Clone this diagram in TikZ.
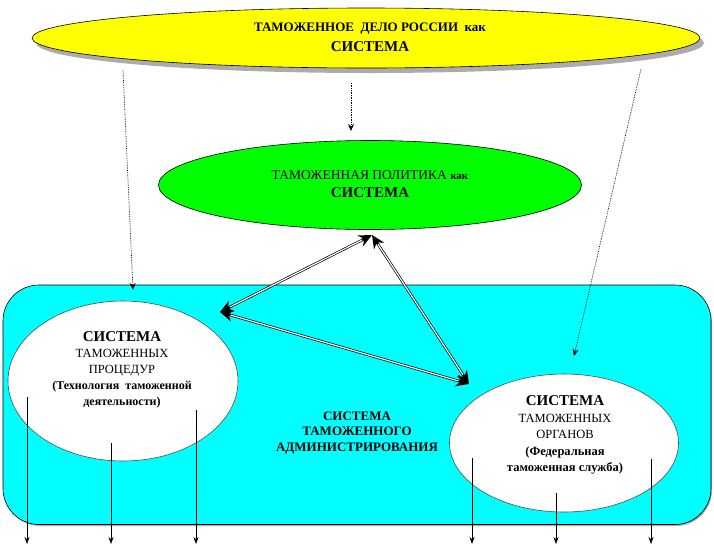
\documentclass[tikz,border=0pt]{standalone}
\usepackage{fontspec}
\setmainfont{Liberation Serif}
\usetikzlibrary{shapes.geometric,arrows.meta}

\definecolor{aqua}{RGB}{0,255,255}
\definecolor{lime}{RGB}{0,255,0}
\definecolor{lemon}{RGB}{255,255,0}

\tikzset{
  oval/.style={ellipse, draw, line width=0.6pt, inner sep=0pt},
  dotarrow/.style={densely dotted, line width=0.7pt, -{Stealth[length=7pt,width=6pt]}},
  twoway/.style={line width=2.6pt,
    {Stealth[length=13pt,width=12pt]}-{Stealth[length=13pt,width=12pt]},
    postaction={draw, -, white, line width=1.2pt, shorten >=11pt, shorten <=11pt}},
  outarrow/.style={line width=0.6pt, -{Stealth[length=7pt,width=5pt]}},
}

\begin{document}
\begin{tikzpicture}[x=1pt,y=-1pt]
        \useasboundingbox (0,0) rectangle (714,547);

        % Draw shadows
        \fill[gray!65] (370,43) ellipse (334 and 30);
        \fill[gray!65, rounded corners=36pt] (4.5,286.5) rectangle (712,526);

        % Draw outer system box
        \draw[fill=aqua, line width=0.6pt, rounded corners=36pt] (3,285) rectangle (711,524.5);

        % Draw ellipses
        \node[oval, fill=lemon, minimum width=668pt, minimum height=60pt] (delo) at (366,38) {};
        \node[oval, fill=lime, minimum width=423pt, minimum height=89pt] (policy) at (370,185) {};
        \node[oval, fill=white, draw=black!70, minimum width=230pt, minimum height=160pt] (proc) at (123,381) {};
        \node[oval, fill=white, draw=black!70, minimum width=229pt, minimum height=138pt] (organs) at (564,443) {};

        % Texts
        \node[align=center, font=\fontsize{13}{20}\selectfont\bfseries] (delotxt) at (370,37)
          {ТАМОЖЕННОЕ\ \ ДЕЛО РОССИИ\ \ как\\{\fontsize{15}{20}\selectfont СИСТЕМА}};
        \node[align=center, font=\fontsize{13.5}{18}\selectfont] (policytxt) at (370,184)
          {ТАМОЖЕННАЯ ПОЛИТИКА {\fontsize{11}{18}\selectfont\bfseries как}\\{\fontsize{15}{18}\selectfont\bfseries СИСТЕМА}};
        \node[align=center, font=\fontsize{12.5}{16}\selectfont] (proctxt) at (122,370)
          {{\fontsize{15}{16}\selectfont\bfseries СИСТЕМА}\\ТАМОЖЕННЫХ\\ПРОЦЕДУР\\
           {\bfseries\fontsize{12}{16}\selectfont (Технология\ \ таможенной}\\
           {\bfseries\fontsize{12}{16}\selectfont деятельности)}};
        \node[align=center, font=\fontsize{12.5}{16.5}\selectfont] (organstxt) at (565,435)
          {{\fontsize{15}{16.5}\selectfont\bfseries СИСТЕМА}\\ТАМОЖЕННЫХ\\ОРГАНОВ\\
           {\bfseries\fontsize{12.5}{16.5}\selectfont (Федеральная}\\
           {\bfseries\fontsize{12.5}{16.5}\selectfont таможенная служба)}};
        \node[align=center, font=\fontsize{13}{15.5}\selectfont\bfseries] (admintxt) at (357,433)
          {СИСТЕМА\\ТАМОЖЕННОГО\\АДМИНИСТРИРОВАНИЯ};

        % Arrows from the top system
        \coordinate (d1) at (123,70);
        \coordinate (d1e) at (133,290);
        \coordinate (d2) at (351,83);
        \coordinate (d2e) at (351,131);
        \coordinate (d3) at (641,69);
        \coordinate (d3e) at (574,356);
        \draw[dotarrow] (d1) -- (d1e);
        \draw[dotarrow] (d2) -- (d2e);
        \draw[dotarrow] (d3) -- (d3e);

        % Double arrows between the three systems
        \coordinate (vtop) at (372,235);
        \coordinate (vleft) at (220,312);
        \coordinate (vright) at (469,384);
        \draw[twoway] (vleft) -- (vtop);
        \draw[twoway] (vtop) -- (vright);
        \draw[twoway] (vleft) -- (vright);

        % Outgoing arrows at the bottom
        \coordinate (a1) at (27,397);
        \coordinate (a2) at (111,443);
        \coordinate (a3) at (196,410);
        \coordinate (a4) at (472,458);
        \coordinate (a5) at (556,493);
        \coordinate (a6) at (651,459);
        \draw[outarrow] (a1) -- (27,544);
        \draw[outarrow] (a2) -- (111,544);
        \draw[outarrow] (a3) -- (196,544);
        \draw[outarrow] (a4) -- (472,544);
        \draw[outarrow] (a5) -- (556,544);
        \draw[outarrow] (a6) -- (651,544);
\end{tikzpicture}
\end{document}
